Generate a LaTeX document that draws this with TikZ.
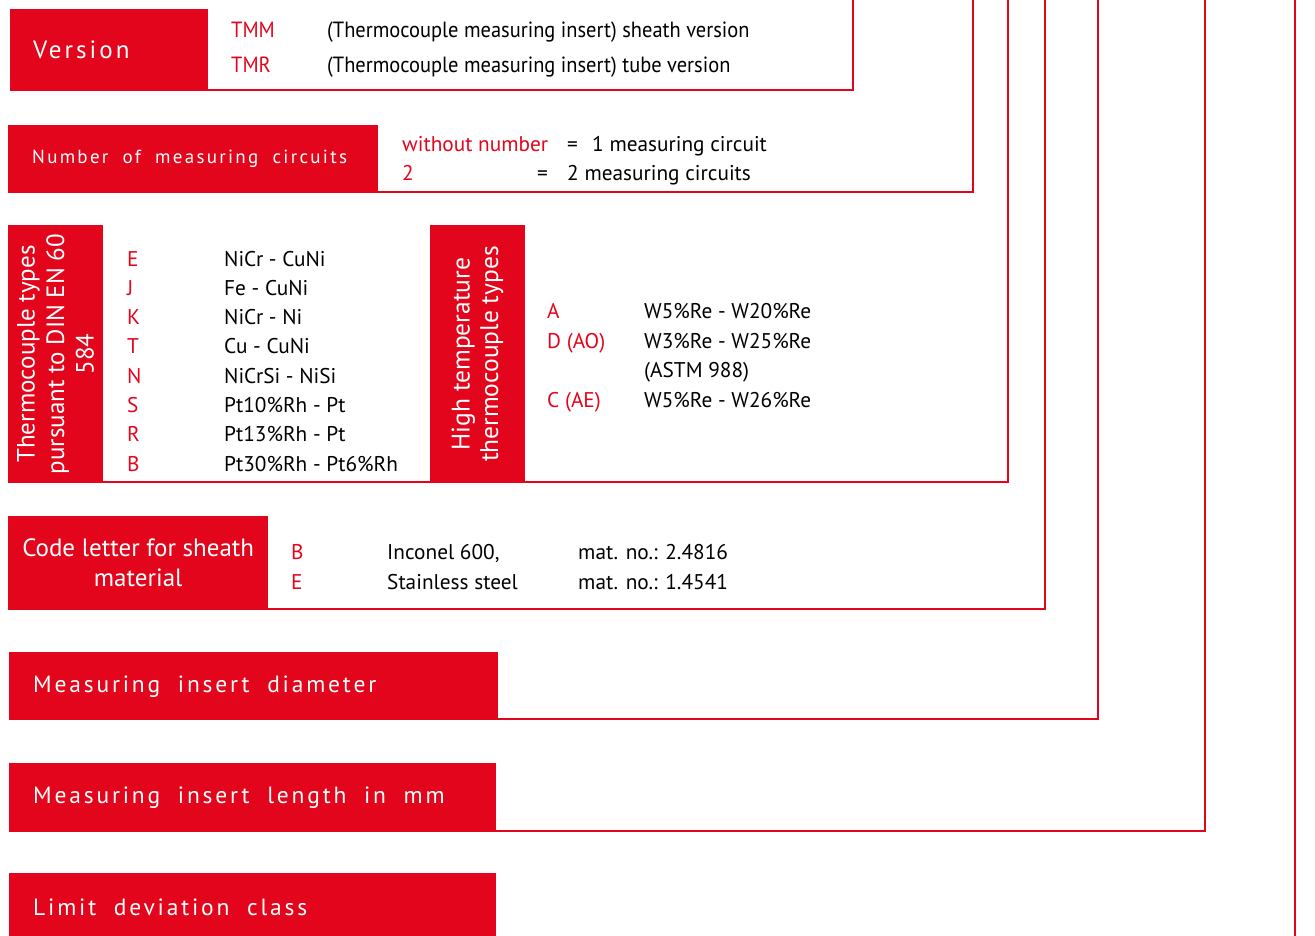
\documentclass[tikz,border=0pt]{standalone}
\usepackage{fontspec}
\setmainfont{PT Sans}
\newfontfamily\spacedfont[LetterSpace=12]{PT Sans}
\newfontfamily\condfont[FakeStretch=0.93]{PT Sans}
\newcommand\gap{\hspace{0.75em}}
\usepackage{xcolor}
\usepackage{tikz}
\usetikzlibrary{positioning, calc}
\definecolor{brand}{HTML}{E3051B}

\begin{document}
\begin{tikzpicture}[
    x=1pt, y=-1pt,
    hdr/.style={fill=brand, text=white, anchor=north west, inner xsep=23pt, inner ysep=0pt, font=\fontsize{23.5}{26}\spacedfont},
    hdrc/.style={fill=brand, text=white, anchor=north west, inner sep=0pt, align=center, font=\fontsize{25}{30}\selectfont},
    hdrv/.style={fill=brand, text=white, anchor=center, inner sep=0pt, align=center, rotate=90, font=\fontsize{25}{29.5}\selectfont},
    code/.style={anchor=base west, inner sep=0pt, text=brand, font=\fontsize{21.3}{24}\selectfont},
    desc/.style={anchor=base west, inner sep=0pt, font=\fontsize{21.3}{24}\selectfont},
    cdesc/.style={desc, font=\fontsize{22}{26}\condfont},
    frame/.style={draw=brand, line width=2.4pt},
]
\useasboundingbox (0,0) rectangle (1315,936);

% ─── Row 1: Version ───
\node[hdr, font=\fontsize{25}{26}\spacedfont, minimum width=198, minimum height=82, text width=152pt] at (10,9) (version) {Version};
\node[code, font=\fontsize{22}{26}\condfont] at (231,38) (tmm) {TMM};
\node[cdesc] at (327,38) (tmmtxt) {(Thermocouple measuring insert) sheath version};
\node[code, font=\fontsize{22}{26}\condfont] at (231,73) (tmr) {TMR};
\node[cdesc] at (327,73) (tmrtxt) {(Thermocouple measuring insert) tube version};

% ─── Row 2: Number of measuring circuits ───
\node[hdr, font=\fontsize{19}{24}\spacedfont, inner xsep=24pt, minimum width=370, minimum height=68, text width=322pt] at (8,125) (circuits) {Number\gap of\gap measuring\gap circuits};
\node[code] at (402,152) (nonum) {without number};
\node[desc] at (567,152) (eqone) {=};
\node[desc] at (592,152) (one) {1 measuring circuit};
\node[code] at (402,181) (two) {2};
\node[desc] at (537,181) (eqtwo) {=};
\node[desc] at (567,181) (twotxt) {2 measuring circuits};

% ─── Row 3: Thermocouple types ───
\node[hdrv, minimum width=258, minimum height=95] at (55.5,354) (thermo) {Thermocouple types\\pursuant to DIN EN 60\\584};
\foreach \tc/\pair [count=\i from 0] in {E/NiCr - CuNi, J/Fe - CuNi, K/NiCr - Ni, T/Cu - CuNi,
    N/NiCrSi - NiSi, S/Pt10\%Rh - Pt, R/Pt13\%Rh - Pt, B/Pt30\%Rh - Pt6\%Rh}{
  \node[code] at (127,266+29.3*\i) (tc\tc) {\tc};
  \node[desc] at (224,266+29.3*\i) (tcpair\tc) {\pair};
}

% ─── Row 3b: High temperature types ───
\node[hdrv, font=\fontsize{25.5}{28.5}\selectfont, minimum width=258, minimum height=95] at (477.5,354) (hitemp) {High temperature\\thermocouple types};
\node[code] at (547,318) (htA) {A};
\node[desc] at (644,318) (htAtxt) {W5\%Re - W20\%Re};
\node[code] at (547,348) (htD) {D (AO)};
\node[desc] at (644,348) (htDtxt) {W3\%Re - W25\%Re};
\node[desc] at (644,377) (htDnote) {(ASTM 988)};
\node[code] at (547,407) (htC) {C (AE)};
\node[desc] at (644,407) (htCtxt) {W5\%Re - W26\%Re};

% ─── Row 4: Sheath material ───
\node[hdrc, minimum width=260, minimum height=94] at (8,516) (sheath) {Code letter for sheath\\material};
\node[code] at (291,559) (shB) {B};
\node[desc] at (387,559) (shBtxt) {Inconel 600,};
\node[desc] at (578,559) (shBno) {mat. no.: 2.4816};
\node[code] at (291,589) (shE) {E};
\node[desc] at (387,589) (shEtxt) {Stainless steel};
\node[desc] at (578,589) (shEno) {mat. no.: 1.4541};

% ─── Rows 5-7: Diameter, length, limit deviation ───
\node[hdr, inner xsep=24pt, minimum width=489, minimum height=68, text width=441pt] at (9,652) (diameter) {Measuring\gap insert\gap diameter};
\node[hdr, inner xsep=24pt, minimum width=487, minimum height=69, text width=439pt] at (9,763) (length) {Measuring\gap insert\gap length\gap in\gap mm};
\node[hdr, inner xsep=24pt, minimum width=487, minimum height=68, text width=439pt] at (9,873) (limit) {Limit\gap deviation\gap class};

% ─── Frame lines ───
\coordinate (versionTop)  at (853,0);
\coordinate (circuitsTop) at (973,0);
\coordinate (thermoTop)   at (1008,0);
\coordinate (sheathTop)   at (1045,0);
\coordinate (diamTop)     at (1098,0);
\coordinate (lengthTop)   at (1205,0);
\coordinate (limitTop)    at (1295,0);
\coordinate (limitBase)   at (1295,936);

\draw[frame] ([yshift=1.5pt]version.south east)  -| (versionTop);
\draw[frame] ([yshift=1.5pt]circuits.south east) -| (circuitsTop);
\draw[frame] ([yshift=1.2pt]thermo.south west)   -| (thermoTop);
\draw[frame] ([yshift=1.2pt]sheath.south east)   -| (sheathTop);
\draw[frame] ([yshift=1.5pt]diameter.south east) -| (diamTop);
\draw[frame] ([yshift=1.5pt]length.south east)   -| (lengthTop);
\draw[frame] (limitBase) -- (limitTop);

\end{tikzpicture}
\end{document}
